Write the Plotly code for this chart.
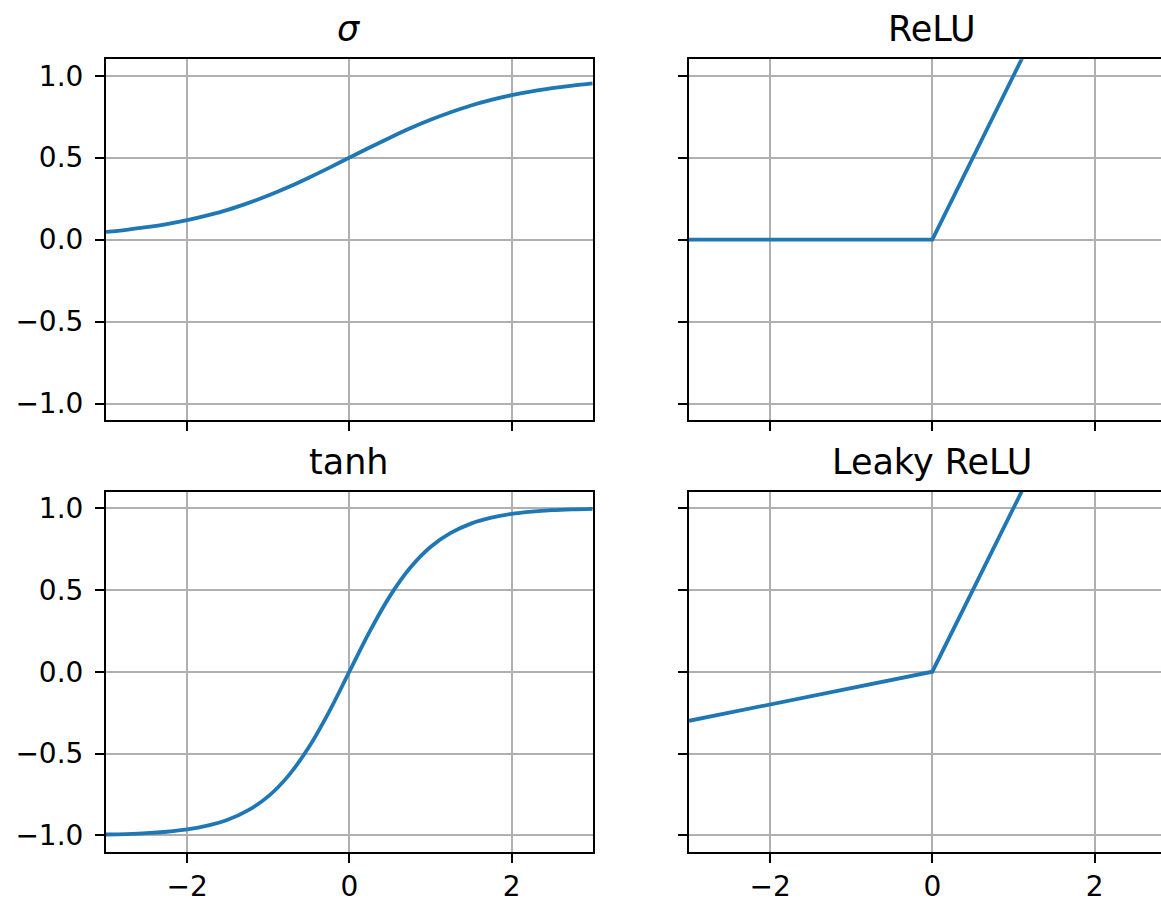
import plotly.graph_objects as go

W, H = 1161, 901

# ---- data ----
x_smooth = [-3.0, -2.75, -2.5, -2.25, -2.0, -1.75, -1.5, -1.25, -1.0, -0.75, -0.5, -0.25,
            0.0, 0.25, 0.5, 0.75, 1.0, 1.25, 1.5, 1.75, 2.0, 2.25, 2.5, 2.75, 3.0]
sigma_y = [0.047, 0.060, 0.076, 0.095, 0.119, 0.148, 0.182, 0.223, 0.269, 0.321, 0.378, 0.438,
           0.500, 0.562, 0.622, 0.679, 0.731, 0.777, 0.818, 0.852, 0.881, 0.905, 0.924, 0.940, 0.953]
tanh_y = [-0.995, -0.992, -0.987, -0.978, -0.964, -0.941, -0.905, -0.848, -0.762, -0.635, -0.462, -0.245,
          0.000, 0.245, 0.462, 0.635, 0.762, 0.848, 0.905, 0.941, 0.964, 0.978, 0.987, 0.992, 0.995]
x_kink = [-3.0, 0.0, 3.0]
relu_y = [0.0, 0.0, 3.0]
leaky_y = [-0.3, 0.0, 3.0]
titles = ["<i>σ</i>", "ReLU", "tanh", "Leaky ReLU"]
y_ticks = [-1.0, -0.5, 0.0, 0.5, 1.0]
x_ticks = [-2, 0, 2]

BLUE = "#1f77b4"
FONT = "DejaVu Sans"
TICK_PX = 28
TITLE_PX = 35

def px_x(p):
    return p / W

def px_y(p):
    return 1 - p / H

L0, L1 = 106, 592.7
R0 = 689
T0, T1 = 59.3, 420
B0, B1 = 491.7, 851.7
scale = (L1 - L0) / 6.0
right_max = -3 + (W - R0) / scale

fig = go.Figure()
line = dict(color=BLUE, width=3.8)
fig.add_trace(go.Scatter(x=x_smooth, y=sigma_y, mode="lines", line=dict(shape="spline", **line),
                         xaxis="x", yaxis="y", showlegend=False, hoverinfo="skip"))
fig.add_trace(go.Scatter(x=x_kink, y=relu_y, mode="lines", line=line,
                         xaxis="x2", yaxis="y2", showlegend=False, hoverinfo="skip"))
fig.add_trace(go.Scatter(x=x_smooth, y=tanh_y, mode="lines", line=dict(shape="spline", **line),
                         xaxis="x3", yaxis="y3", showlegend=False, hoverinfo="skip"))
fig.add_trace(go.Scatter(x=x_kink, y=leaky_y, mode="lines", line=line,
                         xaxis="x4", yaxis="y4", showlegend=False, hoverinfo="skip"))

common = dict(showgrid=True, gridcolor="#b0b0b0", gridwidth=2, zeroline=False,
              showline=True, linecolor="black", linewidth=2,
              ticks="outside", ticklen=9, tickwidth=2, tickcolor="black",
              tickfont=dict(family=FONT, size=TICK_PX, color="black"),
              automargin=False, fixedrange=True)

def xax(domain, rng, anchor, labels, mirror=True):
    return dict(domain=domain, range=rng, anchor=anchor, tickmode="array",
                tickvals=x_ticks, ticktext=["\u22122", "0", "2"], showticklabels=labels,
                mirror=mirror, ticklabelstandoff=0, **common)

def yax(domain, anchor, labels, mirror):
    return dict(domain=domain, range=[-1.1, 1.1], anchor=anchor, tickmode="array",
                tickvals=y_ticks, ticktext=["\u22121.0", "\u22120.5", "0.0", "0.5", "1.0"],
                showticklabels=labels, mirror=mirror, ticklabelstandoff=6, **common)

xl = [px_x(L0), px_x(L1)]
xr = [px_x(R0), 1.0]
yt = [px_y(T1), px_y(T0)]
yb = [px_y(B1), px_y(B0)]

fig.update_layout(
    width=W, height=H,
    margin=dict(l=0, r=0, t=0, b=0),
    paper_bgcolor="white", plot_bgcolor="white",
    font=dict(family=FONT, color="black"),
    xaxis=xax(xl, [-3, 3], "y", False),
    yaxis=yax(yt, "x", True, True),
    xaxis2=xax(xr, [-3, right_max], "y2", False),
    yaxis2=yax(yt, "x2", False, False),
    xaxis3=xax(xl, [-3, 3], "y3", True),
    yaxis3=yax(yb, "x3", True, True),
    xaxis4=xax(xr, [-3, right_max], "y4", True),
    yaxis4=yax(yb, "x4", False, False),
)

cx_left = px_x((L0 + L1) / 2)
cx_right = px_x((R0 + R0 + (L1 - L0)) / 2)
title_pos = [(cx_left, T0), (cx_right, T0), (cx_left, B0), (cx_right, B0)]
for t, (cx, top) in zip(titles, title_pos):
    fig.add_annotation(x=cx, y=px_y(top - 8), xref="paper", yref="paper",
                       text=t, showarrow=False, xanchor="center", yanchor="bottom",
                       font=dict(family=FONT, size=TITLE_PX, color="black"))

fig.write_html("out.html")
